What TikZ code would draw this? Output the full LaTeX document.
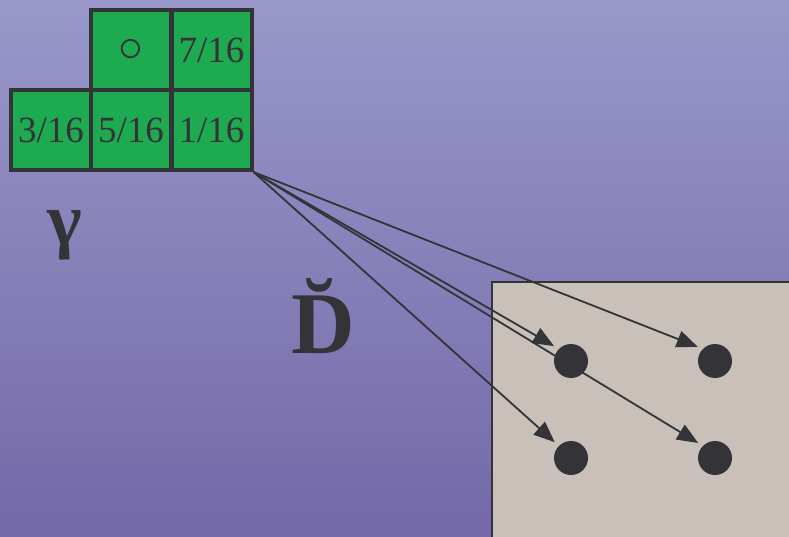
\documentclass[tikz,border=0pt]{standalone}
\usepackage{fontspec}
\setmainfont{Liberation Serif}
\usetikzlibrary{arrows.meta}
\definecolor{bgtop}{RGB}{152,152,202}
\definecolor{bgbot}{RGB}{116,104,168}
\definecolor{cellgreen}{RGB}{30,170,80}
\definecolor{ink}{RGB}{51,51,56}
\definecolor{panel}{RGB}{200,192,185}
\pgfdeclarelayer{back}
\pgfdeclarelayer{mid}
\pgfsetlayers{back,mid,main}
\begin{document}
\begin{tikzpicture}[x=1pt,y=-1pt,
  cell/.style={draw=ink, line width=4pt, fill=cellgreen, minimum size=80pt, inner sep=0pt, text=ink, font=\fontsize{37}{37}\selectfont},
  dot/.style={circle, fill=ink, minimum size=34pt, inner sep=0pt},
  arr/.style={draw=ink, line width=1.8pt, -{Triangle[length=21pt,width=17pt]}, shorten >=5.5pt},
  bigsym/.style={text=ink, inner sep=0pt}]
\useasboundingbox (0,0) rectangle (789,537);
\clip (0,0) rectangle (789,537);
\begin{pgfonlayer}{back}
  \shade[top color=bgtop, bottom color=bgbot] (0,0) rectangle (789,537);
  \draw[fill=panel, draw=ink, line width=1.5pt] (492,282) rectangle (800,550);
\end{pgfonlayer}
% grid cells
\node[cell] (c1) at (131,50) {\scalebox{2}{$\circ$}};
\node[cell] (c2) at (211.5,50) {7/16};
\node[cell] (c3) at (51,130) {3/16};
\node[cell] (c4) at (131,130) {5/16};
\node[cell] (c5) at (211.5,130) {1/16};
% labels
\node[bigsym, font=\fontsize{74}{74}\selectfont\bfseries] (gam) at (65,235) {γ};
\node[bigsym, font=\fontsize{88}{88}\selectfont\bfseries] (dbr) at (323,316) {\u{D}};
% dots
\node[dot] (d1) at (571,361) {};
\node[dot] (d2) at (715,361) {};
\node[dot] (d3) at (571,458) {};
\node[dot] (d4) at (715,458) {};
\begin{pgfonlayer}{mid}
  \draw[arr] (c5.south east) -- (d2.north west);
  \draw[arr] (c5.south east) -- (d1.north west);
  \draw[arr] (c5.south east) -- (d3.north west);
  \draw[arr] (c5.south east) -- (d4.north west);
\end{pgfonlayer}
\end{tikzpicture}
\end{document}
